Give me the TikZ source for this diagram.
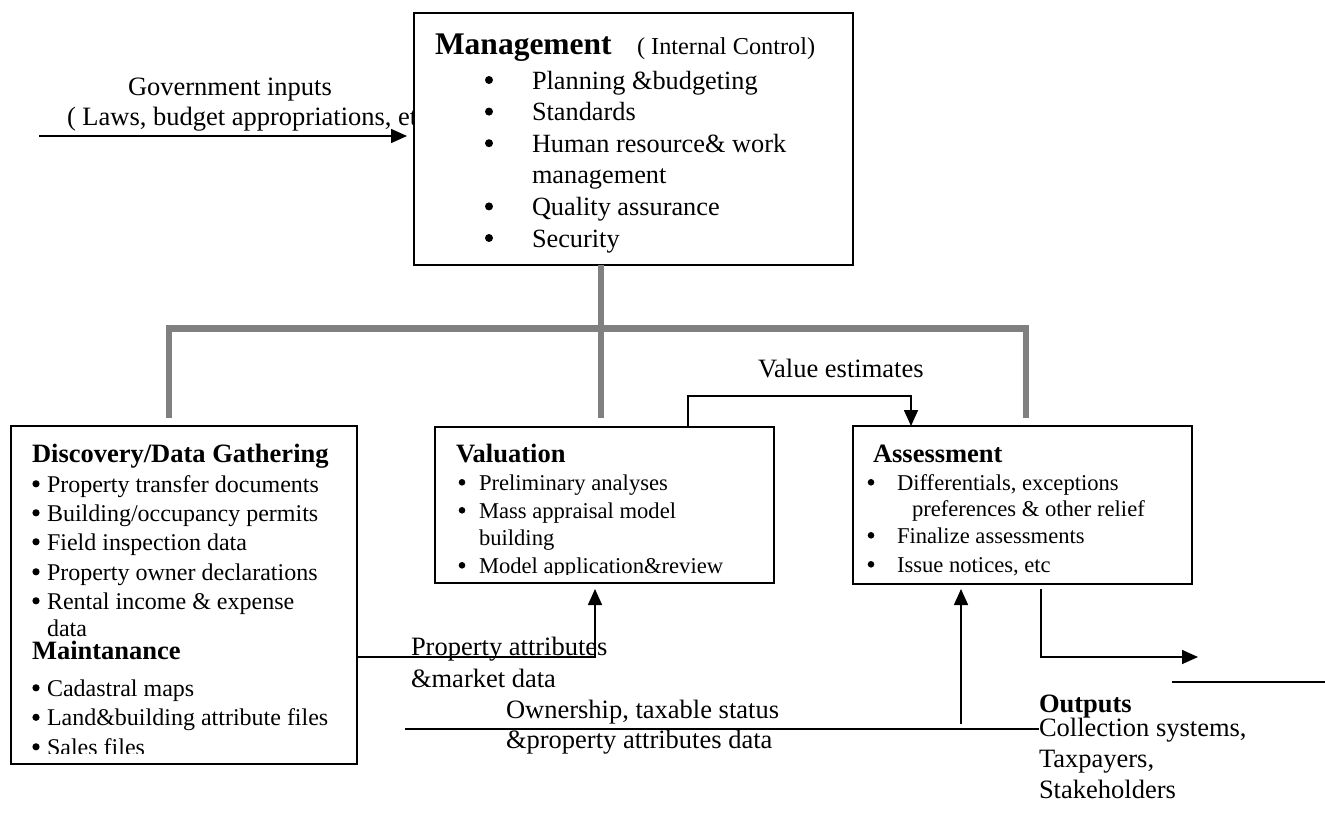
\documentclass[tikz,border=0pt]{standalone}
\usepackage{fontspec}
\setmainfont{Liberation Serif}
\usetikzlibrary{arrows.meta,calc}
\definecolor{treegray}{RGB}{128,128,128}
\newcommand\fs[1]{\fontsize{#1pt}{#1pt}\selectfont}
\newcommand\tl[5]{\node[lbl] (#1) at (#2,#3) {\fs{#4}#5};}
\newcommand\bl[3]{\fill (#1,#2) circle (#3pt);}
\begin{document}
\begin{tikzpicture}[x=1pt,y=-1pt,
  lbl/.style={anchor=base west,inner sep=0pt,outer sep=0pt},
  box/.style={draw,line width=1.6pt,fill=white,inner sep=0pt,outer sep=0pt,anchor=north west},
  tree/.style={draw=treegray,line width=6.3pt},
  conn/.style={line width=1.6pt},
  arr/.style={conn,-{Triangle[length=16pt,width=14pt]}}]
\useasboundingbox (0,0) rectangle (1325,819);

% government inputs label (partly hidden by the management box)
\tl{g1}{128}{95}{26.5}{Government inputs}
\begin{scope}
  \clip (0,100) rectangle (413,140);
  \tl{g2}{67}{125}{26.5}{( Laws, budget appropriations, etc)}
\end{scope}

% boxes
\node[box,minimum width=439pt,minimum height=252pt] (mgmt) at (414,13) {};
\node[box,minimum width=346pt,minimum height=338pt] (disc) at (11,426) {};
\node[box,minimum width=339pt,minimum height=156pt] (val) at (435,427) {};
\node[box,minimum width=339pt,minimum height=158pt] (ass) at (853,426) {};

% gray tree
\coordinate (tL) at (169,418);
\coordinate (tM) at (601,418);
\coordinate (tR) at (1026,418);
\coordinate (bL) at (169,328.5);
\coordinate (bR) at (1026,328.5);
\draw[tree] (tL) -- (bL) -- (bR) -- (tR);
\draw[tree] (mgmt.south -| tM) -- (tM);

% government arrow
\coordinate (gin) at (39,136);
\draw[arr,shorten >=7pt] (gin) -- (mgmt.west |- gin);

% value estimates
\coordinate (ve1) at (688,396);
\coordinate (ve2) at (911,396);
\draw[arr] (val.north -| ve1) -- (ve1) -- (ve2) -- (ass.north -| ve2);
\tl{ve}{758}{377}{26.5}{Value estimates}

% property attributes
\coordinate (pa) at (595,657);
\draw[arr,shorten >=6pt] (disc.east |- pa) -- (pa) -- (val.south -| pa);
\tl{pa1}{411}{655}{26.5}{Property attributes}
\tl{pa2}{411}{687}{26.5}{\&market data}

% ownership
\coordinate (ow1) at (405,729);
\coordinate (ow2) at (1039,729);
\draw[conn] (ow1) -- (ow2);
\coordinate (ou) at (961,724);
\draw[arr,shorten >=5pt] (ou) -- (ass.south -| ou);
\tl{ow3}{506}{718}{26.5}{Ownership, taxable status}
\tl{ow4}{506}{748}{26.5}{\&property attributes data}

% outputs
\coordinate (oa0) at (1041,589);
\coordinate (oa1) at (1041,657);
\coordinate (oa2) at (1198,657);
\draw[arr] (oa0) -- (oa1) -- (oa2);
\coordinate (ol1) at (1172,682);
\coordinate (ol2) at (1325,682);
\draw[conn] (ol1) -- (ol2);
\tl{o1}{1039}{712}{26.5}{\bfseries Outputs}
\tl{o2}{1039}{736}{26.5}{Collection systems,}
\tl{o3}{1039}{767}{26.5}{Taxpayers,}
\tl{o4}{1039}{798}{26.5}{Stakeholders}

% management text
\tl{m0}{435}{54}{31.5}{\bfseries Management}
\tl{m0b}{637}{54}{24.3}{( Internal Control)}
\tl{m1}{532}{89}{26.3}{Planning \&budgeting}
\tl{m2}{532}{120.6}{26.3}{Standards}
\tl{m3}{532}{152.2}{26.3}{Human resource\& work}
\tl{m4}{532}{183.8}{26.3}{management}
\tl{m5}{532}{215.4}{26.3}{Quality assurance}
\tl{m6}{532}{247}{26.3}{Security}
\foreach \y in {80,111.6,143.2,206.4,238} {\bl{489}{\y}{4}}

% discovery text
\begin{scope}
  \clip (11,426) rectangle (357,753);
  \tl{d0}{32}{462}{26.5}{\bfseries Discovery/Data Gathering}
  \tl{d1}{47}{492}{24}{Property transfer documents}
  \tl{d2}{47}{521}{24}{Building/occupancy permits}
  \tl{d3}{47}{550}{24}{Field inspection data}
  \tl{d4}{47}{580}{24}{Property owner declarations}
  \tl{d5}{47}{609}{24}{Rental income \& expense}
  \tl{d6}{47}{636}{24}{data}
  \tl{d7}{32}{659}{26.5}{\bfseries Maintanance}
  \tl{d8}{47}{696}{24}{Cadastral maps}
  \tl{d9}{47}{725.5}{24}{Land\&building attribute files}
  \tl{d10}{47}{755}{24}{Sales files}
  \foreach \y in {483.8,512.8,541.8,571.8,600.8,687.8,717.3,746.8} {\bl{36}{\y}{3.6}}
\end{scope}

% valuation text
\begin{scope}
  \clip (435,427) rectangle (774,574);
  \tl{v0}{456}{462}{26.5}{\bfseries Valuation}
  \tl{v1}{479}{490}{22.6}{Preliminary analyses}
  \tl{v2}{479}{518}{22.6}{Mass appraisal model}
  \tl{v3}{479}{545}{22.6}{building}
  \tl{v4}{479}{573}{22.6}{Model application\&review}
  \foreach \y in {482.3,510.3,565.3} {\bl{462}{\y}{3.3}}
\end{scope}

% assessment text
\begin{scope}
  \clip (853,426) rectangle (1192,575);
  \tl{a0}{873}{462}{26.5}{\bfseries Assessment}
  \tl{a1}{897}{490}{22.6}{Differentials, exceptions}
  \tl{a2}{912}{516}{22.6}{preferences \& other relief}
  \tl{a3}{897}{543}{22.6}{Finalize assessments}
  \tl{a4}{897}{572}{22.6}{Issue notices, etc}
  \foreach \y in {482.3,535.3,564.3} {\bl{871}{\y}{3.3}}
\end{scope}
\end{tikzpicture}
\end{document}
